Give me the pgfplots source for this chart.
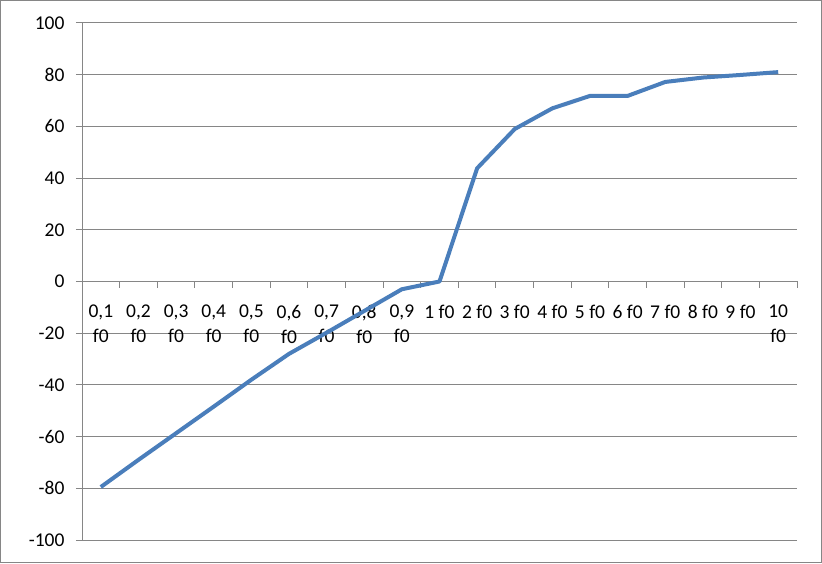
\documentclass[border=0pt]{standalone}
\usepackage{fontspec}
\setmainfont{Carlito}
\usepackage{pgfplots}
\pgfplotsset{compat=1.18}
\definecolor{excelblue}{HTML}{4A7EBB}
\definecolor{gridgray}{HTML}{868686}
\begin{document}
\begin{tikzpicture}
\useasboundingbox (0pt,0pt) rectangle (822pt,563pt);
\draw[gridgray, line width=1.2pt] (0.6pt,0.6pt) rectangle (821.4pt,562.4pt);
\begin{axis}[
    at={(82pt,23pt)}, anchor=south west,
    scale only axis,
    width=715pt, height=517pt,
    xmin=0, xmax=19,
    ymin=-100, ymax=100,
    axis x line=middle,
    axis y line=left,
    axis line style={gridgray, line width=1pt, -},
    tick align=outside,
    tick style={gridgray, line width=1pt},
    major tick length=6pt,
    minor tick length=6pt,
    ytick={-100,-80,...,100},
    ymajorgrids,
    grid style={gridgray, line width=1pt},
    xtick={0.5,1.5,...,18.5},
    major x tick style={draw=none},
    minor xtick={1,2,...,19},
    xticklabels={{0,1\\f0},{0,2\\f0},{0,3\\f0},{0,4\\f0},{0,5\\f0},{0,6\\f0},{0,7\\f0},{0,8\\f0},{0,9\\f0},{1 f0},{2 f0},{3 f0},{4 f0},{5 f0},{6 f0},{7 f0},{8 f0},{9 f0},{10\\f0}},
    xticklabel style={align=center, anchor=north, yshift=-14pt, font=\fontsize{19.5}{25}\selectfont},
    yticklabel style={anchor=east, xshift=-8pt, font=\fontsize{19.5}{23}\selectfont},
    /pgf/number format/assume math mode=true,
    clip=false,
]
\addplot[excelblue, line width=4pt, line join=round] coordinates {
    (0.5,-79.5) (1.5,-69) (2.5,-58.7) (3.5,-48.4) (4.5,-38) (5.5,-28)
    (6.5,-19.8) (7.5,-11.4) (8.5,-3) (9.5,0) (10.5,43.8) (11.5,59)
    (12.5,67) (13.5,71.8) (14.5,71.8) (15.5,77.2) (16.5,78.9) (17.5,79.9) (18.5,81)
};
\end{axis}
\end{tikzpicture}
\end{document}
